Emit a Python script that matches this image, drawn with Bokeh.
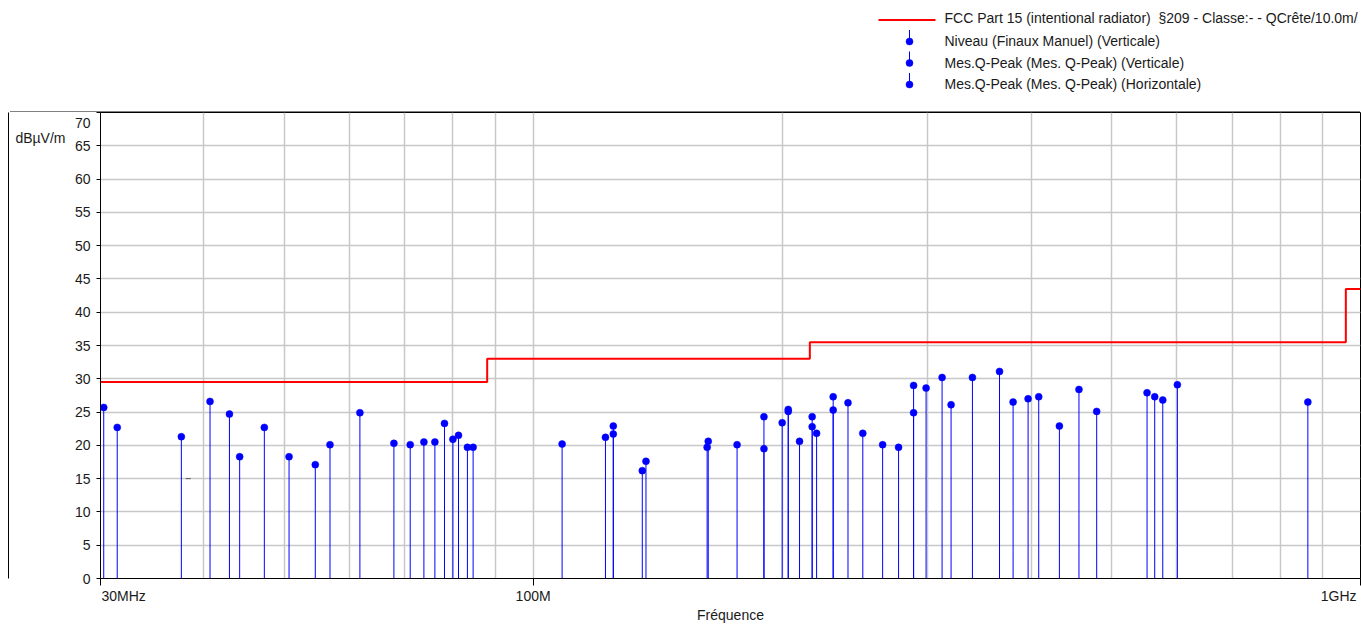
import math
from bokeh.plotting import figure
from bokeh.layouts import column
from bokeh.models import FixedTicker, Range1d, LinearAxis
from bokeh.core.properties import value
from bokeh.embed import file_html
from bokeh.resources import INLINE

# ---------------- data (frequencies in MHz, levels in dBuV/m) ----------------
limit_edges = [30, 88, 216, 960, 1000]
limit_levels = [29.5, 33.0, 35.5, 43.5, 43.5]

niveau_f = [125.0, 190.1, 203.4, 217.4, 230.5, 288.3]
niveau_v = [22.9, 24.3, 25.4, 24.3, 27.3, 29.0]

qpv_f = [30.27, 31.43, 40.69, 42.95, 50.70, 61.75, 71.03, 73.79, 76.08, 78.14,
         79.99, 84.62, 108.4, 125.0, 136.9, 162.8, 190.1, 203.4, 209.9, 217.4,
         230.5, 250.3, 288.3, 298.5, 320.0, 339.6, 366.2, 380.3, 408.4, 456.8,
         479.9, 564.0, 576.8, 600.7]
qpv_v = [25.7, 22.7, 26.6, 24.7, 18.3, 24.9, 20.1, 20.5, 20.5, 23.3,
         20.9, 19.7, 20.2, 21.7, 17.6, 20.6, 19.5, 25.1, 20.6, 22.8,
         25.3, 21.8, 24.9, 28.6, 26.1, 30.2, 31.1, 26.5, 27.3, 28.4,
         25.1, 27.3, 26.8, 29.1]

qph_f = [37.57, 44.19, 47.33, 54.54, 56.82, 67.88, 81.25, 83.29, 122.3, 135.5,
         162.3, 176.4, 200.0, 220.1, 240.2, 264.5, 276.5, 312.1, 396.5, 432.6,
         552.1, 863.7]
qph_v = [21.3, 18.3, 22.7, 17.1, 20.1, 20.3, 21.5, 19.7, 21.2, 16.2,
         19.7, 20.1, 23.4, 21.8, 26.4, 20.1, 19.7, 30.2, 27.0, 22.9,
         27.9, 26.5]

stray_f = [38.3]
stray_v = [15.0]

x_tick_vals = [30, 100, 1000]
x_tick_labels = ["30MHz", "100M", "1GHz"]
x_grid_vals = [40, 50, 60, 70, 80, 90, 100, 200, 300, 400, 500, 600, 700, 800, 900]
y_tick_vals = list(range(0, 75, 5))
y_unit = "dB\u00b5V/m"

legend_labels = [
    "FCC Part 15 (intentional radiator)\u00a0 \u00a7209 - Classe:- - QCr\u00eate/10.0m/",
    "Niveau (Finaux Manuel) (Verticale)",
    "Mes.Q-Peak (Mes. Q-Peak) (Verticale)",
    "Mes.Q-Peak (Mes. Q-Peak) (Horizontale)",
]

# ---------------- styling ----------------
FONT = "Liberation Sans"
FS = "14px"
BLUE = "#0000FF"
RED = "#FF0000"
GRID = "#C8C8C8"
TXT = "#1a1a1a"

W = 1361
LEG_H = 112
MAIN_H = 628 - LEG_H
FL, FR, FB = 100, 1, 50
FRAME_W = W - FL - FR
FRAME_H = MAIN_H - FB
PX_PER_DEC = FRAME_W / math.log10(x_tick_vals[-1] / x_tick_vals[0])
PX_PER_UNIT = FRAME_H / y_tick_vals[-1]

# ---------------- legend strip (pixel coordinates, full-width frame) ----------------
lg = figure(width=W, height=LEG_H, x_range=Range1d(0, W), y_range=Range1d(LEG_H, 0),
            x_axis_type=None, y_axis_type=None, output_backend="svg",
            toolbar_location=None, min_border=0)
lg.grid.visible = False
lg.outline_line_color = None
lg.background_fill_color = "white"
lg.border_fill_color = "white"

row_y = [17.5, 40.5, 62.0, 83.5]
sym_x = 909
lg.line([878, 935], [19.5, 19.5], line_color=RED, line_width=2)
lg.segment(x0=[sym_x] * 3, y0=[r - 11 for r in row_y[1:]], x1=[sym_x] * 3,
           y1=row_y[1:], line_color=BLUE, line_width=1)
lg.scatter([sym_x] * 3, [r + 0.5 for r in row_y[1:]], size=7, fill_color=BLUE,
           line_color=BLUE, line_width=0.5)
lg.text(x=[944] * 4, y=row_y, text=legend_labels, text_font=value(FONT),
        text_font_size=FS, text_color=TXT, text_baseline="middle", text_align="left")
# top edge of the outer frame
lg.segment(x0=[9.5], y0=[LEG_H - 0.5], x1=[W - 1.5], y1=[LEG_H - 0.5],
           line_color="black", line_width=1)

# ---------------- main chart ----------------
p = figure(width=W, height=MAIN_H, x_axis_type="log",
           x_range=Range1d(x_tick_vals[0], x_tick_vals[-1]),
           y_range=Range1d(y_tick_vals[0], y_tick_vals[-1]),
           output_backend="svg", toolbar_location=None,
           min_border_left=FL, min_border_right=FR, min_border_top=0,
           min_border_bottom=FB)
p.background_fill_color = "white"
p.border_fill_color = "white"
p.outline_line_color = "black"

# grids
p.xgrid.ticker = FixedTicker(ticks=x_grid_vals)
p.ygrid.ticker = FixedTicker(ticks=y_tick_vals)
for g in (p.xgrid, p.ygrid):
    g.grid_line_color = GRID
    g.grid_line_width = 1.5

# x axis: tick marks drawn as minor ticks at the true positions, labels placed
# so that the end labels sit inside the frame like the original
x_first_label = x_tick_vals[0] * 10 ** (23.2 / PX_PER_DEC)
x_last_label = x_tick_vals[-1] * 10 ** (-21.9 / PX_PER_DEC)
x_label_pos = [x_first_label, x_tick_vals[1], x_last_label]
xa = p.xaxis[0]
xa.ticker = FixedTicker(ticks=x_label_pos, minor_ticks=x_tick_vals)
xa.major_label_overrides = {v: t for v, t in zip(x_label_pos, x_tick_labels)}
xa.major_tick_line_color = None
xa.major_tick_in = 0
xa.major_tick_out = 4
xa.minor_tick_in = 0
xa.minor_tick_out = 7
xa.minor_tick_line_color = "black"
xa.major_label_standoff = 2
xa.axis_line_color = "black"
xa.major_label_text_font = FONT
xa.major_label_text_font_size = FS
xa.major_label_text_color = TXT
xa.axis_label = "Fr\u00e9quence"
xa.axis_label_text_font = FONT
xa.axis_label_text_font_size = FS
xa.axis_label_text_font_style = "normal"
xa.axis_label_text_color = TXT
xa.axis_label_standoff = 0

# y axis: tick marks as minor ticks; top label sits inside the frame
y_top_label = y_tick_vals[-1] - 10 / PX_PER_UNIT
y_label_pos = y_tick_vals[:-1] + [y_top_label]
ya = p.yaxis[0]
ya.ticker = FixedTicker(ticks=y_label_pos, minor_ticks=y_tick_vals)
ya.major_label_overrides = {y_top_label: str(y_tick_vals[-1])}
ya.major_tick_line_color = None
ya.major_tick_in = 0
ya.major_tick_out = 4
ya.minor_tick_in = 0
ya.minor_tick_out = 4
ya.minor_tick_line_color = "black"
ya.major_label_standoff = 6
ya.axis_line_color = "black"
ya.major_label_text_font = FONT
ya.major_label_text_font_size = FS
ya.major_label_text_color = TXT

# unit label carried by a second (bare) left axis
y_unit_pos = y_tick_vals[-1] - 25 / PX_PER_UNIT
ua = LinearAxis(ticker=FixedTicker(ticks=[y_unit_pos], minor_ticks=[]),
                major_label_overrides={y_unit_pos: y_unit})
ua.axis_line_color = None
ua.major_tick_line_color = None
ua.major_tick_in = 0
ua.major_tick_out = 0
ua.major_label_standoff = 6
ua.major_label_text_font = FONT
ua.major_label_text_font_size = FS
ua.major_label_text_color = TXT
ua.axis_label = " "
ua.axis_label_text_font_size = "1px"
ua.axis_label_standoff = 0
p.add_layout(ua, "left")

# outer frame's left edge, drawn by a third bare axis
fa = LinearAxis(ticker=FixedTicker(ticks=[], minor_ticks=[]))
fa.axis_line_color = "black"
fa.major_tick_line_color = None
fa.major_tick_in = 0
fa.major_tick_out = 0
fa.major_label_standoff = 0
fa.major_label_text_font_size = "0px"
p.add_layout(fa, "left")

# limit line
p.step(limit_edges, limit_levels, mode="after", line_color=RED, line_width=2)

# stems and dots
series = ((niveau_f, niveau_v), (qpv_f, qpv_v), (qph_f, qph_v))
for fs, vs in series:
    p.segment(x0=fs, y0=[0] * len(fs), x1=fs, y1=vs, line_color=BLUE, line_width=1)
for fs, vs in series:
    p.scatter(fs, vs, size=7, fill_color=BLUE, line_color=BLUE, line_width=0.5)

p.scatter(stray_f, stray_v, marker="dash", size=5, line_color="#555555", line_width=1)

layout = column(column(lg), p, spacing=0)
open("out.html", "w").write(file_html(layout, INLINE))
